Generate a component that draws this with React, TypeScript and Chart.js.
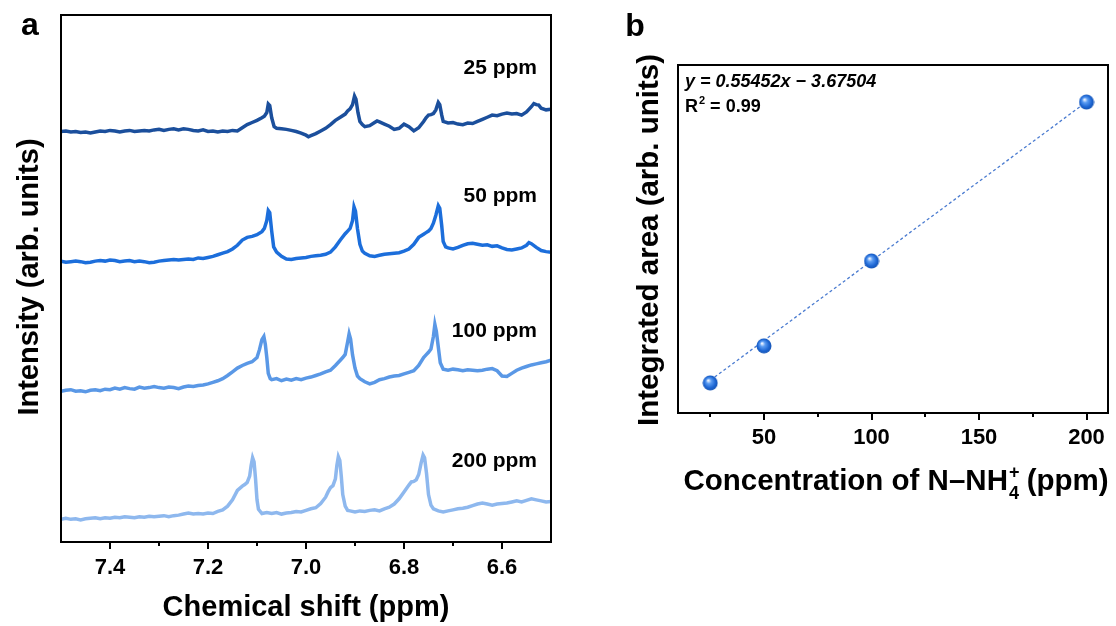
import React, { useEffect, useRef } from 'react';
import { Chart, registerables } from 'chart.js';
Chart.register(...registerables);

const FONT = '"Liberation Sans", Arial, Helvetica, sans-serif';

// ---------- Panel a: 1H NMR spectra (chemical shift ppm, intensity arb. units, offset stacked) ----------
const SHIFT_MIN = 6.5;
const SHIFT_MAX = 7.5;
const SHIFT_TICKS = [6.6, 6.7, 6.8, 6.9, 7.0, 7.1, 7.2, 7.3, 7.4];
const SHIFT_LABELS = ['6.6', '', '6.8', '', '7.0', '', '7.2', '', '7.4'];
const TRACE_LABELS = ['25 ppm', '50 ppm', '100 ppm', '200 ppm'];
const TRACE_COLORS = ['#1B4F9C', '#1C6EDB', '#5A98E6', '#8EB8EE'];

const SPEC_25: [number, number][] = [
  [7.50, 77.9], [7.49, 78.0], [7.48, 77.8], [7.47, 77.9], [7.46, 77.7], [7.45, 77.8], [7.44, 77.6], [7.43, 77.8], [7.42, 78.0], [7.41, 77.9],
  [7.40, 78.1], [7.39, 78.0], [7.38, 77.8], [7.37, 78.0], [7.36, 78.1], [7.35, 77.9], [7.34, 78.0], [7.33, 78.1], [7.32, 78.0], [7.31, 78.2],
  [7.30, 78.3], [7.29, 78.1], [7.28, 78.3], [7.27, 78.4], [7.26, 78.2], [7.25, 78.4], [7.24, 78.3], [7.23, 78.1], [7.22, 78.0], [7.21, 78.2],
  [7.20, 77.9], [7.19, 78.0], [7.18, 77.8], [7.17, 78.0], [7.16, 77.9], [7.15, 78.1], [7.14, 78.0], [7.13, 78.6], [7.12, 79.2], [7.11, 79.6],
  [7.10, 80.0], [7.09, 80.5], [7.085, 80.8], [7.08, 81.5], [7.077, 83.1], [7.074, 82.8], [7.07, 80.5], [7.065, 78.8], [7.06, 78.5], [7.05, 78.4],
  [7.04, 78.3], [7.03, 78.1], [7.02, 77.9], [7.01, 77.6], [7.00, 77.2], [6.995, 76.9], [6.99, 77.1], [6.98, 77.5], [6.97, 78.0], [6.96, 78.5],
  [6.95, 79.2], [6.94, 80.0], [6.93, 80.6], [6.92, 81.2], [6.915, 81.8], [6.91, 82.2], [6.905, 83.0], [6.901, 84.6], [6.898, 84.0], [6.894, 81.5],
  [6.89, 79.8], [6.885, 79.2], [6.88, 78.8], [6.87, 79.0], [6.86, 79.6], [6.855, 79.9], [6.85, 79.7], [6.84, 79.3], [6.83, 78.9], [6.82, 78.3],
  [6.81, 78.5], [6.80, 79.3], [6.79, 78.8], [6.78, 78.0], [6.77, 78.6], [6.76, 79.8], [6.755, 80.5], [6.75, 81.0], [6.745, 81.1], [6.74, 81.3],
  [6.735, 82.0], [6.73, 83.4], [6.727, 83.0], [6.723, 81.0], [6.72, 79.8], [6.71, 79.5], [6.70, 79.6], [6.69, 79.3], [6.68, 79.2], [6.67, 79.5],
  [6.66, 79.4], [6.65, 79.8], [6.64, 80.2], [6.63, 80.6], [6.62, 81.0], [6.61, 80.9], [6.60, 81.2], [6.59, 81.4], [6.58, 81.2], [6.57, 81.3],
  [6.56, 81.0], [6.55, 81.6], [6.54, 82.6], [6.535, 83.2], [6.53, 83.0], [6.525, 82.9], [6.52, 82.3], [6.51, 82.0], [6.50, 82.1],
];

const SPEC_50: [number, number][] = [
  [7.50, 53.3], [7.49, 53.1], [7.48, 53.2], [7.47, 53.3], [7.46, 53.2], [7.45, 53.0], [7.44, 53.1], [7.43, 53.3], [7.42, 53.4], [7.41, 53.3],
  [7.40, 53.5], [7.39, 53.4], [7.38, 53.2], [7.37, 53.3], [7.36, 53.4], [7.35, 53.2], [7.34, 53.3], [7.33, 53.2], [7.32, 53.0], [7.31, 53.1],
  [7.30, 53.3], [7.29, 53.4], [7.28, 53.5], [7.27, 53.6], [7.26, 53.5], [7.25, 53.6], [7.24, 53.7], [7.23, 53.6], [7.22, 53.9], [7.21, 53.8],
  [7.20, 54.0], [7.19, 54.2], [7.18, 54.5], [7.17, 54.8], [7.16, 55.1], [7.15, 55.6], [7.14, 56.3], [7.13, 57.3], [7.12, 57.8], [7.11, 58.0],
  [7.10, 58.3], [7.09, 58.9], [7.085, 59.5], [7.08, 61.0], [7.077, 62.9], [7.074, 62.5], [7.07, 59.0], [7.066, 56.0], [7.06, 55.0], [7.05, 54.2],
  [7.04, 53.7], [7.03, 53.6], [7.02, 53.8], [7.01, 53.9], [7.00, 54.0], [6.99, 54.2], [6.98, 54.3], [6.97, 54.4], [6.96, 54.6], [6.95, 55.0],
  [6.94, 56.0], [6.93, 57.3], [6.92, 58.5], [6.915, 59.0], [6.91, 59.5], [6.905, 61.0], [6.902, 63.6], [6.899, 62.8], [6.895, 59.5], [6.89, 56.5],
  [6.885, 55.2], [6.88, 54.8], [6.87, 54.3], [6.86, 54.2], [6.85, 54.4], [6.84, 54.6], [6.83, 54.7], [6.82, 54.8], [6.81, 54.9], [6.80, 55.2],
  [6.79, 55.6], [6.78, 56.5], [6.77, 57.8], [6.76, 58.4], [6.755, 58.7], [6.75, 59.0], [6.745, 59.5], [6.74, 60.5], [6.735, 62.0], [6.73, 63.8],
  [6.727, 63.3], [6.723, 60.0], [6.72, 57.0], [6.715, 56.0], [6.71, 55.8], [6.70, 55.6], [6.69, 55.9], [6.68, 56.3], [6.67, 56.6], [6.66, 56.7],
  [6.65, 56.5], [6.64, 56.3], [6.63, 56.4], [6.62, 56.1], [6.61, 56.2], [6.60, 55.8], [6.59, 55.5], [6.58, 55.4], [6.57, 55.6], [6.56, 55.8],
  [6.55, 56.3], [6.545, 56.8], [6.54, 56.6], [6.53, 55.9], [6.52, 55.3], [6.51, 55.1], [6.50, 55.0],
];

const SPEC_100: [number, number][] = [
  [7.50, 28.6], [7.49, 28.8], [7.48, 28.9], [7.47, 28.6], [7.46, 28.7], [7.45, 28.5], [7.44, 28.8], [7.43, 28.9], [7.42, 28.7], [7.41, 29.0],
  [7.40, 28.9], [7.39, 29.2], [7.38, 29.0], [7.37, 29.3], [7.36, 29.1], [7.35, 29.0], [7.34, 29.4], [7.33, 29.2], [7.32, 29.3], [7.31, 29.5],
  [7.30, 29.3], [7.29, 29.2], [7.28, 29.4], [7.27, 29.3], [7.26, 29.1], [7.25, 29.4], [7.24, 29.6], [7.23, 29.5], [7.22, 29.7], [7.21, 29.8],
  [7.20, 30.0], [7.19, 30.3], [7.18, 30.6], [7.17, 31.0], [7.16, 31.6], [7.15, 32.3], [7.14, 33.0], [7.13, 33.5], [7.12, 33.9], [7.11, 34.2],
  [7.10, 35.0], [7.095, 36.5], [7.09, 38.4], [7.086, 39.0], [7.083, 37.5], [7.08, 35.0], [7.077, 32.0], [7.073, 31.0], [7.07, 30.8], [7.06, 31.0],
  [7.05, 30.6], [7.04, 30.9], [7.03, 30.7], [7.02, 31.0], [7.01, 30.8], [7.00, 31.1], [6.99, 31.3], [6.98, 31.6], [6.97, 31.9], [6.96, 32.3],
  [6.95, 32.6], [6.94, 33.5], [6.93, 34.5], [6.925, 35.0], [6.92, 35.6], [6.915, 38.0], [6.912, 39.5], [6.909, 38.5], [6.905, 35.5], [6.90, 33.0],
  [6.895, 31.5], [6.89, 31.0], [6.88, 30.4], [6.87, 30.0], [6.86, 30.3], [6.85, 30.8], [6.84, 31.0], [6.83, 31.3], [6.82, 31.5], [6.81, 31.6],
  [6.80, 31.9], [6.79, 32.2], [6.78, 32.5], [6.77, 33.5], [6.76, 35.0], [6.755, 35.5], [6.75, 36.0], [6.745, 36.6], [6.74, 39.0], [6.737, 41.3],
  [6.734, 40.0], [6.73, 37.0], [6.726, 34.0], [6.72, 32.8], [6.71, 32.6], [6.70, 32.8], [6.69, 32.7], [6.68, 32.5], [6.67, 32.7], [6.66, 32.6],
  [6.65, 32.5], [6.64, 32.6], [6.63, 32.8], [6.62, 32.9], [6.61, 32.5], [6.60, 31.5], [6.59, 31.4], [6.58, 32.0], [6.57, 32.6], [6.56, 33.0],
  [6.55, 33.3], [6.54, 33.6], [6.53, 33.8], [6.52, 34.0], [6.51, 34.2], [6.50, 34.5],
];

const SPEC_200: [number, number][] = [
  [7.50, 4.3], [7.49, 4.5], [7.48, 4.3], [7.47, 4.4], [7.46, 4.2], [7.45, 4.4], [7.44, 4.5], [7.43, 4.6], [7.42, 4.4], [7.41, 4.6],
  [7.40, 4.5], [7.39, 4.7], [7.38, 4.6], [7.37, 4.8], [7.36, 4.7], [7.35, 4.6], [7.34, 4.8], [7.33, 4.7], [7.32, 4.9], [7.31, 4.8],
  [7.30, 4.9], [7.29, 5.0], [7.28, 4.8], [7.27, 5.0], [7.26, 5.1], [7.25, 5.3], [7.24, 5.5], [7.23, 5.3], [7.22, 5.4], [7.21, 5.3],
  [7.20, 5.5], [7.19, 5.4], [7.18, 5.8], [7.17, 6.1], [7.16, 6.8], [7.15, 8.0], [7.14, 9.8], [7.13, 10.6], [7.125, 10.9], [7.12, 11.3],
  [7.115, 12.5], [7.112, 14.5], [7.109, 16.0], [7.106, 15.2], [7.103, 12.0], [7.10, 8.0], [7.097, 6.2], [7.09, 5.4], [7.08, 5.6], [7.07, 5.4],
  [7.06, 5.6], [7.05, 5.3], [7.04, 5.5], [7.03, 5.6], [7.02, 5.8], [7.01, 5.7], [7.00, 6.0], [6.99, 6.3], [6.98, 6.5], [6.97, 7.3],
  [6.96, 8.5], [6.955, 9.5], [6.95, 10.3], [6.945, 10.7], [6.94, 12.0], [6.937, 14.5], [6.934, 16.2], [6.931, 15.5], [6.928, 12.5], [6.925, 9.0],
  [6.92, 6.8], [6.915, 6.0], [6.91, 5.9], [6.90, 5.7], [6.89, 5.9], [6.88, 5.8], [6.87, 6.0], [6.86, 6.1], [6.85, 5.9], [6.84, 6.3],
  [6.83, 6.6], [6.82, 7.2], [6.81, 8.2], [6.80, 9.5], [6.79, 10.8], [6.785, 11.4], [6.78, 11.5], [6.775, 11.8], [6.77, 12.8], [6.765, 15.0],
  [6.761, 16.5], [6.758, 16.0], [6.754, 13.0], [6.75, 9.0], [6.745, 7.0], [6.74, 6.3], [6.73, 5.9], [6.72, 5.7], [6.71, 5.9], [6.70, 6.1],
  [6.69, 6.3], [6.68, 6.4], [6.67, 6.6], [6.66, 6.9], [6.65, 7.2], [6.64, 7.4], [6.63, 7.2], [6.62, 7.0], [6.61, 7.2], [6.60, 7.3],
  [6.59, 7.4], [6.58, 7.6], [6.57, 7.8], [6.56, 7.6], [6.55, 7.9], [6.54, 8.2], [6.53, 8.0], [6.52, 7.8], [6.51, 7.6], [6.50, 7.7],
];

const SPECTRA = [SPEC_25, SPEC_50, SPEC_100, SPEC_200];

// ---------- Panel b: calibration ----------
const CONC_MIN = 10;
const CONC_MAX = 210;
const CONC_TICKS = [25, 50, 75, 100, 125, 150, 175, 200];
const CONC_LABELS = ['', '50', '', '100', '', '150', '', '200'];
const CONCENTRATIONS = [25, 50, 100, 200];
const AREAS = [9.3, 22.2, 51.8, 107.2];
const FIT_SLOPE = 0.55452;
const FIT_INTERCEPT = -3.67504;
const FIT_TEXT = 'y = 0.55452x \u2212 3.67504';
const R2_TEXT = '0.99';

function makeSphere(): HTMLCanvasElement {
  const c = document.createElement('canvas');
  c.width = 16;
  c.height = 16;
  const ctx = c.getContext('2d')!;
  const g = ctx.createRadialGradient(6, 5.5, 0.5, 8, 8, 8);
  g.addColorStop(0, '#e8f1ff');
  g.addColorStop(0.28, '#5b9cf2');
  g.addColorStop(0.7, '#1d66d3');
  g.addColorStop(1, '#1350ae');
  ctx.fillStyle = g;
  ctx.beginPath();
  ctx.arc(8, 8, 7.5, 0, Math.PI * 2);
  ctx.fill();
  return c;
}

function drawFrameAndTicks(chart: any, labels: string[]) {
  const { ctx, chartArea } = chart;
  const xs = chart.scales.x;
  ctx.save();
  ctx.strokeStyle = '#000';
  ctx.lineWidth = 2;
  xs.ticks.forEach((t: any, i: number) => {
    const px = Math.round(xs.getPixelForValue(t.value));
    const len = labels[i] ? 7 : 4;
    ctx.beginPath();
    ctx.moveTo(px, chartArea.bottom);
    ctx.lineTo(px, chartArea.bottom + len);
    ctx.stroke();
  });
  ctx.strokeRect(chartArea.left, chartArea.top, chartArea.right - chartArea.left, chartArea.bottom - chartArea.top);
  ctx.restore();
}

const panelAPlugin = {
  id: 'panelA',
  afterDatasetsDraw(chart: any) {
    drawFrameAndTicks(chart, SHIFT_LABELS);
  },
  afterDraw(chart: any) {
    const { ctx } = chart;
    ctx.save();
    ctx.fillStyle = '#000';
    ctx.font = `bold 32px ${FONT}`;
    ctx.textAlign = 'center';
    ctx.textBaseline = 'alphabetic';
    ctx.fillText('a', 30, 35);
    ctx.font = `bold 21px ${FONT}`;
    ctx.textAlign = 'right';
    const baselines = [74, 202, 337, 467];
    TRACE_LABELS.forEach((t, i) => ctx.fillText(t, 537, baselines[i]));
    ctx.font = `bold 29px ${FONT}`;
    ctx.textAlign = 'center';
    ctx.fillText('Chemical shift (ppm)', 306, 616);
    ctx.translate(30, 277);
    ctx.rotate(-Math.PI / 2);
    ctx.textBaseline = 'middle';
    ctx.fillText('Intensity (arb. units)', 0, 0);
    ctx.restore();
  },
};

const panelBPlugin = {
  id: 'panelB',
  afterDatasetsDraw(chart: any) {
    drawFrameAndTicks(chart, CONC_LABELS);
  },
  afterDraw(chart: any) {
    const { ctx } = chart;
    ctx.save();
    ctx.fillStyle = '#000';
    ctx.textBaseline = 'alphabetic';
    ctx.font = `bold 32px ${FONT}`;
    ctx.textAlign = 'center';
    ctx.fillText('b', 45, 36);

    ctx.textAlign = 'left';
    ctx.font = `italic bold 18px ${FONT}`;
    ctx.fillText(FIT_TEXT, 95, 87);
    ctx.font = `bold 18px ${FONT}`;
    ctx.fillText('R', 95, 112);
    const wR = ctx.measureText('R').width;
    ctx.font = `bold 11px ${FONT}`;
    ctx.fillText('2', 95 + wR + 1, 104);
    const w2 = ctx.measureText('2').width;
    ctx.font = `bold 18px ${FONT}`;
    ctx.fillText(' = ' + R2_TEXT, 95 + wR + 1 + w2, 112);

    const mainFont = `bold 29.5px ${FONT}`;
    const smallFont = `bold 18px ${FONT}`;
    const part1 = 'Concentration of N\u2013NH';
    const part2 = ' (ppm)';
    ctx.font = mainFont;
    const w1 = ctx.measureText(part1).width;
    const w3 = ctx.measureText(part2).width;
    ctx.font = smallFont;
    const wS = Math.max(ctx.measureText('+').width, ctx.measureText('4').width);
    const total = w1 + wS + w3;
    const x0 = 306 - total / 2;
    const base = 490;
    ctx.font = mainFont;
    ctx.fillText(part1, x0, base);
    ctx.font = smallFont;
    ctx.fillText('+', x0 + w1 + 1, base - 12);
    ctx.fillText('4', x0 + w1 + 1, base + 9);
    ctx.font = mainFont;
    ctx.fillText(part2, x0 + w1 + wS, base);

    ctx.textAlign = 'center';
    ctx.textBaseline = 'middle';
    ctx.translate(60, 240);
    ctx.rotate(-Math.PI / 2);
    ctx.fillText('Integrated area (arb. units)', 0, 0);
    ctx.restore();
  },
};

const noEdgePadding = (heightPx: number) => (s: any) => {
  s.height = heightPx;
  s.paddingLeft = 0;
  s.paddingRight = 0;
};

export default function App() {
  const refA = useRef<HTMLCanvasElement>(null);
  const refB = useRef<HTMLCanvasElement>(null);

  useEffect(() => {
    document.body.style.margin = '0';
    const tickFont = { family: FONT, size: 22, weight: 'bold' as const };

    const chartA = new Chart(refA.current!, {
      type: 'line',
      data: {
        datasets: SPECTRA.map((spec, i) => ({
          label: TRACE_LABELS[i],
          data: spec.map(([x, y]) => ({ x, y })),
          borderColor: TRACE_COLORS[i],
          borderWidth: 3.5,
          pointRadius: 0,
          tension: 0,
          fill: false,
        })),
      },
      options: {
        responsive: false,
        animation: false,
        layout: { padding: { left: 61, right: 39, top: 15, bottom: 0 } },
        plugins: { legend: { display: false }, tooltip: { enabled: false } },
        scales: {
          x: {
            type: 'linear',
            reverse: true,
            min: SHIFT_MIN,
            max: SHIFT_MAX,
            afterBuildTicks: (s: any) => { s.ticks = SHIFT_TICKS.map((value) => ({ value })); },
            afterFit: noEdgePadding(84),
            grid: { display: false, drawTicks: false },
            border: { display: false },
            ticks: {
              autoSkip: false,
              maxRotation: 0,
              padding: 13,
              color: '#000',
              font: tickFont,
              callback: (_v: any, i: number) => SHIFT_LABELS[i],
            },
          },
          y: { display: false, min: 0, max: 100 },
        },
      },
      plugins: [panelAPlugin],
    } as any);

    const sphere = makeSphere();
    const fitX = [CONCENTRATIONS[0], CONCENTRATIONS[CONCENTRATIONS.length - 1]];
    const chartB = new Chart(refB.current!, {
      type: 'scatter',
      data: {
        datasets: [
          {
            type: 'scatter',
            label: 'data',
            data: CONCENTRATIONS.map((x, i) => ({ x, y: AREAS[i] })),
            pointStyle: sphere,
            pointRadius: 7,
            order: 0,
          },
          {
            type: 'line',
            label: 'fit',
            data: fitX.map((x) => ({ x, y: FIT_SLOPE * x + FIT_INTERCEPT })),
            borderColor: '#4a7bd0',
            borderWidth: 1.3,
            borderDash: [3, 2.5],
            pointRadius: 0,
            fill: false,
            order: 1,
          },
        ],
      },
      options: {
        responsive: false,
        animation: false,
        layout: { padding: { left: 88, right: 5, top: 65, bottom: 0 } },
        plugins: { legend: { display: false }, tooltip: { enabled: false } },
        scales: {
          x: {
            type: 'linear',
            min: CONC_MIN,
            max: CONC_MAX,
            afterBuildTicks: (s: any) => { s.ticks = CONC_TICKS.map((value) => ({ value })); },
            afterFit: noEdgePadding(213),
            grid: { display: false, drawTicks: false },
            border: { display: false },
            ticks: {
              autoSkip: false,
              maxRotation: 0,
              padding: 12,
              color: '#000',
              font: tickFont,
              callback: (_v: any, i: number) => CONC_LABELS[i],
            },
          },
          y: { display: false, min: -1.2, max: 120.1 },
        },
      },
      plugins: [panelBPlugin],
    } as any);

    return () => {
      chartA.destroy();
      chartB.destroy();
    };
  }, []);

  return (
    <div style={{ position: 'relative', width: 1116, height: 626, background: '#fff', overflow: 'hidden' }}>
      <canvas ref={refA} width={590} height={626} style={{ position: 'absolute', left: 0, top: 0 }} />
      <canvas ref={refB} width={526} height={626} style={{ position: 'absolute', left: 590, top: 0 }} />
    </div>
  );
}
